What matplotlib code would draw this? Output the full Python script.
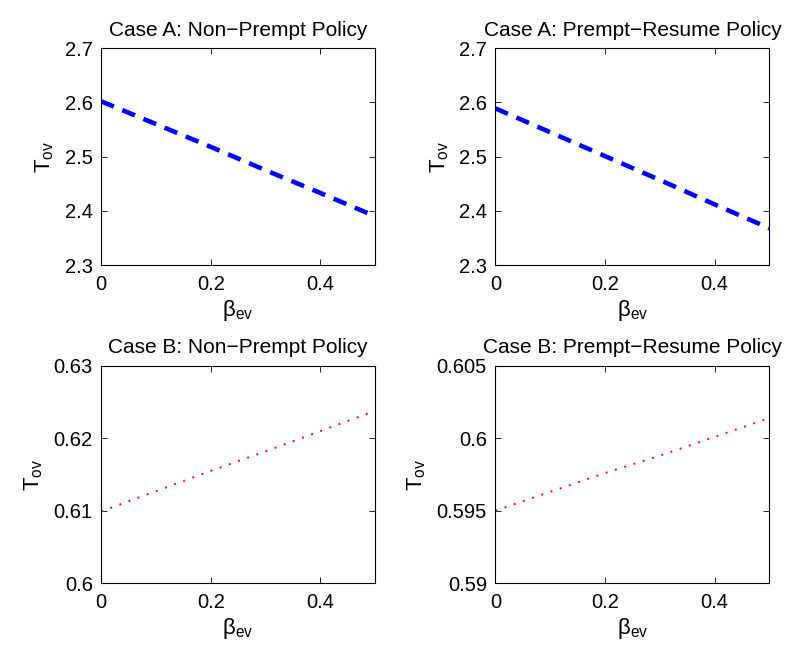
import numpy as np
import matplotlib
matplotlib.use('Agg')
import matplotlib.pyplot as plt
from matplotlib.ticker import FuncFormatter

plt.rcParams['font.family'] = ['Liberation Sans', 'DejaVu Sans']
plt.rcParams['mathtext.fontset'] = 'custom'
plt.rcParams['mathtext.rm'] = 'Liberation Sans'
plt.rcParams['xtick.direction'] = 'in'
plt.rcParams['ytick.direction'] = 'in'

# data
beta_ev = [0.0, 0.1, 0.2, 0.3, 0.4, 0.5]
caseA_nonprempt = [2.602, 2.560, 2.518, 2.475, 2.433, 2.390]
caseA_resume = [2.589, 2.545, 2.501, 2.457, 2.412, 2.368]
caseB_nonprempt = [0.6099, 0.6127, 0.6155, 0.6182, 0.6210, 0.6238]
caseB_resume = [0.5950, 0.5963, 0.5976, 0.5988, 0.6001, 0.6014]

titles = ['Case A: Non\u2212Prempt Policy', 'Case A: Prempt\u2212Resume Policy',
          'Case B: Non\u2212Prempt Policy', 'Case B: Prempt\u2212Resume Policy']
yticks_A = [2.3, 2.4, 2.5, 2.6, 2.7]
yticks_B1 = [0.60, 0.61, 0.62, 0.63]
yticks_B2 = [0.590, 0.595, 0.600, 0.605]

fig = plt.figure(figsize=(7.9, 6.5), dpi=100)

rects = [[0.128, 0.592, 0.347, 0.334], [0.627, 0.592, 0.347, 0.334],
         [0.128, 0.103, 0.347, 0.334], [0.627, 0.103, 0.347, 0.334]]
series = [caseA_nonprempt, caseA_resume, caseB_nonprempt, caseB_resume]
ytk = [yticks_A, yticks_A, yticks_B1, yticks_B2]

gfmt = FuncFormatter(lambda v, p: ('%g' % round(v, 4)))

for i in range(4):
    ax = fig.add_axes(rects[i])
    if i < 2:
        ax.plot(beta_ev, series[i], color='blue', ls=(0, (3.0, 2.0)), lw=3.3)
    else:
        ax.plot(beta_ev, series[i], color='red', ls=(0, (1, 4)), lw=1.4)
    ax.set_xlim(0, 0.5)
    ax.set_ylim(ytk[i][0], ytk[i][-1])
    ax.set_xticks([0, 0.2, 0.4])
    ax.set_yticks(ytk[i])
    ax.xaxis.set_major_formatter(gfmt)
    ax.yaxis.set_major_formatter(gfmt)
    ax.tick_params(labelsize=14.5, top=True, right=True, length=4, width=0.6)
    ax.tick_params(axis='y', pad=6)
    ax.tick_params(axis='x', pad=7)
    for s in ax.spines.values():
        s.set_linewidth(0.8)
    ax.set_title(titles[i], fontsize=15, pad=9)
    ax.set_xlabel('\u03b2$_{\\mathrm{ev}}$', fontsize=16, labelpad=3)
    ax.set_ylabel('T$_{\\mathrm{ov}}$', fontsize=16, labelpad=6)

fig.savefig('out.png', dpi=100)
